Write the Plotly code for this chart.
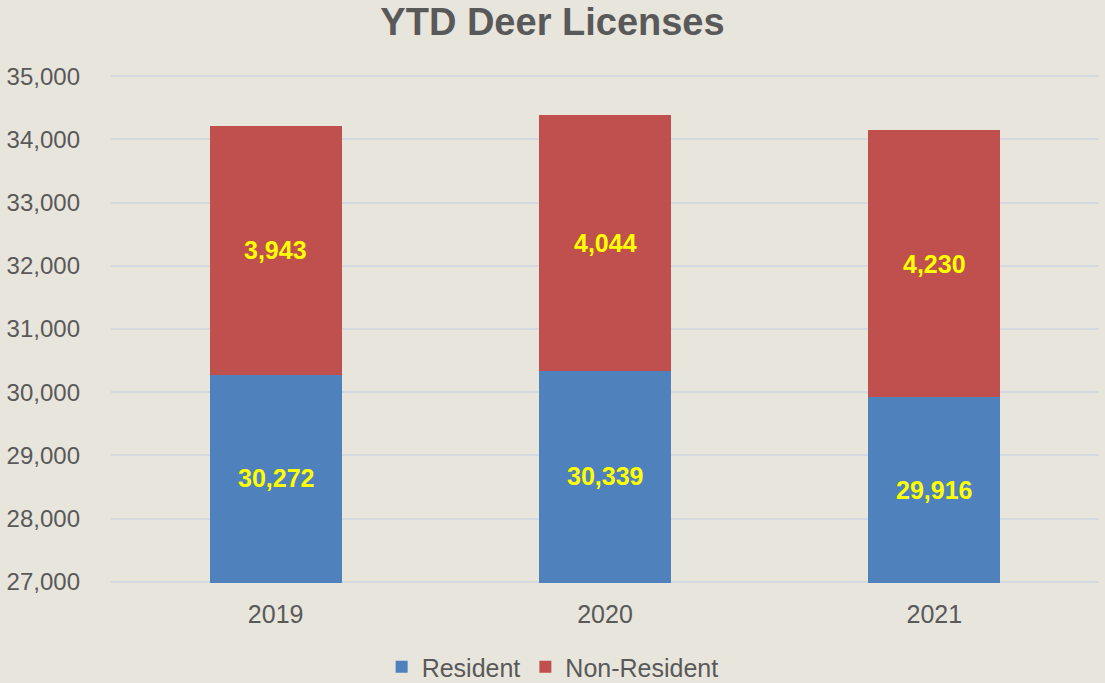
import plotly.graph_objects as go

years = ["2019", "2020", "2021"]
resident = [30272, 30339, 29916]
non_resident = [3943, 4044, 4230]
y_ticks = [27000, 28000, 29000, 30000, 31000, 32000, 33000, 34000, 35000]

BG = "#e8e5dc"
TXT = "#595959"
FONT = "Liberation Sans, Arial, sans-serif"

fig = go.Figure()
fig.add_trace(go.Bar(
    x=years, y=resident, name="Resident",
    marker=dict(color="#4F81BD", line=dict(width=0)),
))
fig.add_trace(go.Bar(
    x=years, y=non_resident, name="Non-Resident",
    marker=dict(color="#C0504D", line=dict(width=0)),
))

ymin = y_ticks[0]
for i, (r, n) in enumerate(zip(resident, non_resident)):
    fig.add_annotation(x=i, y=(max(ymin, 0) + r) / 2, text=f"<b>{r:,}</b>",
                       showarrow=False, font=dict(color="#FFFF00", size=25, family=FONT))
    fig.add_annotation(x=i, y=r + n / 2, text=f"<b>{n:,}</b>",
                       showarrow=False, font=dict(color="#FFFF00", size=25, family=FONT))

eps = 20
fig.update_layout(
    width=1105, height=683,
    barmode="stack", bargap=0.6,
    paper_bgcolor=BG, plot_bgcolor=BG,
    margin=dict(l=111, r=6, t=75, b=100, autoexpand=False),
    title=dict(text="<b>YTD Deer Licenses</b>", x=0.5, xanchor="center",
               y=0.968, yanchor="middle",
               font=dict(size=38, color=TXT, family=FONT)),
    font=dict(family=FONT, color=TXT, size=24),
    xaxis=dict(type="category", range=[-0.5, len(years) - 0.5],
               tickfont=dict(size=25, color=TXT), showgrid=False,
               showline=False, ticks="", ticklabelstandoff=14),
    yaxis=dict(range=[ymin - eps, y_ticks[-1] + eps], tickvals=y_ticks,
               ticktext=[f"{v:,}" for v in y_ticks],
               tickfont=dict(size=24, color=TXT),
               gridcolor="#d4d8df", gridwidth=2, zeroline=False,
               ticks="", ticklabelstandoff=30),
    legend=dict(orientation="h", x=0.447, xanchor="center",
                yref="container", y=(683 - 667) / 683, yanchor="middle",
                font=dict(size=25, color=TXT), bgcolor="rgba(0,0,0,0)",
                itemwidth=30, traceorder="normal"),
)
fig.update_yaxes(automargin=False)
fig.update_xaxes(automargin=False)
fig.write_html("out.html", config={"displayModeBar": False},
               post_script="document.body.style.margin='0';document.body.style.padding='0';")
